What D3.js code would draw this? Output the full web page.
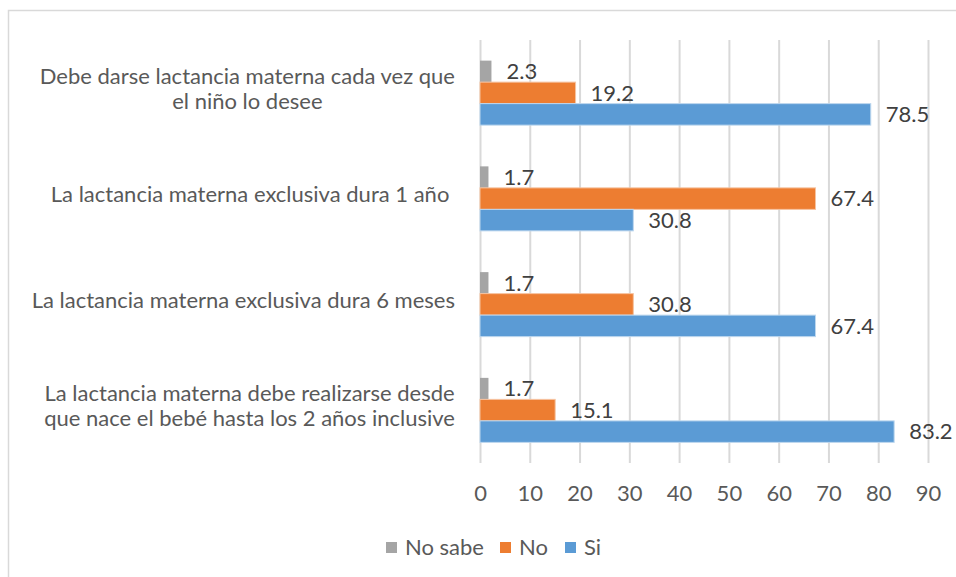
<!DOCTYPE html>
<html>
<head>
<meta charset="utf-8">
<script src="https://cdn.jsdelivr.net/npm/d3@7"></script>
<style>
  body { margin: 0; background: #fff; }
  svg { display: block; font-family: Lato, "Open Sans", sans-serif; }
</style>
</head>
<body>
<div id="chart-container"></div>
<script>
'use strict'

// categories, top to bottom (each entry = lines of the wrapped label)
var categories = [
    ['Debe darse lactancia materna cada vez que', 'el niño lo desee'],
    ['La lactancia materna exclusiva dura 1 año '],
    ['La lactancia materna exclusiva dura 6 meses'],
    ['La lactancia materna debe realizarse desde', 'que nace el bebé hasta los 2 años inclusive']
]
var seriesNames = ['No sabe', 'No', 'Si']
var noSabe = [2.3, 1.7, 1.7, 1.7]
var no = [19.2, 67.4, 30.8, 15.1]
var si = [78.5, 30.8, 67.4, 83.2]
var xTicks = [0, 10, 20, 30, 40, 50, 60, 70, 80, 90]

var colors = { 'No sabe': '#a5a5a5', 'No': '#ed7d31', 'Si': '#5b9bd5' }
var strokes = { 'No sabe': 'none', 'No': '#f6c3a0', 'Si': '#bdd7ee' }

var width = 956, height = 577
var plot = { left: 480, right: 928, top: 40, bottom: 463 }
var fontSize = '22px'

var svg = d3.select('#chart-container').append('svg')
    .attr('width', width)
    .attr('height', height)

// chart frame
svg.append('rect')
    .attr('x', 8.5).attr('y', 10.5)
    .attr('width', 1000).attr('height', 1000)
    .attr('fill', 'none')
    .attr('stroke', '#d9d9d9')
    .attr('stroke-width', 1.5)

var x = d3.scaleLinear().domain([0, 90]).range([plot.left, plot.right])

var y0 = d3.scaleBand()
    .domain(d3.range(categories.length))
    .range([plot.top, plot.bottom])
    .paddingInner(0.39)
    .paddingOuter(0.195)

var y1 = d3.scaleBand()
    .domain(seriesNames)
    .range([0, y0.bandwidth()])

// gridlines + tick labels
var xAxis = d3.axisBottom(x)
    .tickValues(xTicks)
    .tickSize(-(plot.bottom - plot.top))
    .tickPadding(22)

var gx = svg.append('g')
    .attr('transform', 'translate(0,' + plot.bottom + ')')
    .call(xAxis)
gx.select('.domain').remove()
gx.selectAll('.tick line').attr('stroke', '#d9d9d9').attr('stroke-width', 2)
gx.selectAll('.tick text')
    .attr('fill', '#595959')
    .style('font-family', 'Lato, sans-serif')
    .style('font-size', fontSize)

var rows = categories.map(function(c, i) {
    return [
        { s: 'No sabe', v: noSabe[i] },
        { s: 'No', v: no[i] },
        { s: 'Si', v: si[i] }
    ]
})

var groups = svg.selectAll('.group').data(rows)
    .enter().append('g')
    .attr('class', 'group')
    .attr('transform', (d, i) => 'translate(0,' + y0(i) + ')')

groups.selectAll('rect').data(d => d)
    .enter().append('rect')
    .attr('x', x(0))
    .attr('y', d => y1(d.s))
    .attr('width', d => x(d.v) - x(0))
    .attr('height', y1.bandwidth())
    .attr('fill', d => colors[d.s])
    .attr('stroke', d => strokes[d.s])
    .attr('stroke-width', 1)

groups.selectAll('.val').data(d => d)
    .enter().append('text')
    .attr('class', 'val')
    .attr('x', d => x(d.v) + 15)
    .attr('y', d => y1(d.s) + y1.bandwidth() / 2)
    .attr('dy', '0.35em')
    .attr('fill', '#404040')
    .style('font-size', fontSize)
    .text(d => d.v.toFixed(1))

// category labels, wrapped lines centred on their block, block right-aligned
var labelRight = 455
var lineH = 25
categories.forEach(function(lines, i) {
    var cy = y0(i) + y0.bandwidth() / 2
    var t = svg.append('text')
        .attr('fill', '#595959')
        .style('font-size', fontSize)
        .style('white-space', 'pre')
        .attr('text-anchor', 'middle')
    var spans = lines.map(function(line, j) {
        return t.append('tspan')
            .attr('y', cy + (j - (lines.length - 1) / 2) * lineH - 4)
            .attr('dy', '0.35em')
            .text(line)
    })
    var maxW = d3.max(spans, s => s.node().getComputedTextLength())
    spans.forEach(s => s.attr('x', labelRight - maxW / 2))
})

// legend
var legendItems = [
    { s: 'No sabe', x: 386 },
    { s: 'No', x: 500 },
    { s: 'Si', x: 565 }
]
var legend = svg.selectAll('.legend').data(legendItems)
    .enter().append('g')
    .attr('class', 'legend')
    .attr('transform', d => 'translate(' + d.x + ',547)')
legend.append('rect')
    .attr('x', 0).attr('y', -5)
    .attr('width', 11).attr('height', 11)
    .attr('fill', d => colors[d.s])
legend.append('text')
    .attr('x', 19)
    .attr('dy', '0.35em')
    .attr('fill', '#595959')
    .style('font-size', fontSize)
    .text(d => d.s)
</script>
</body>
</html>
